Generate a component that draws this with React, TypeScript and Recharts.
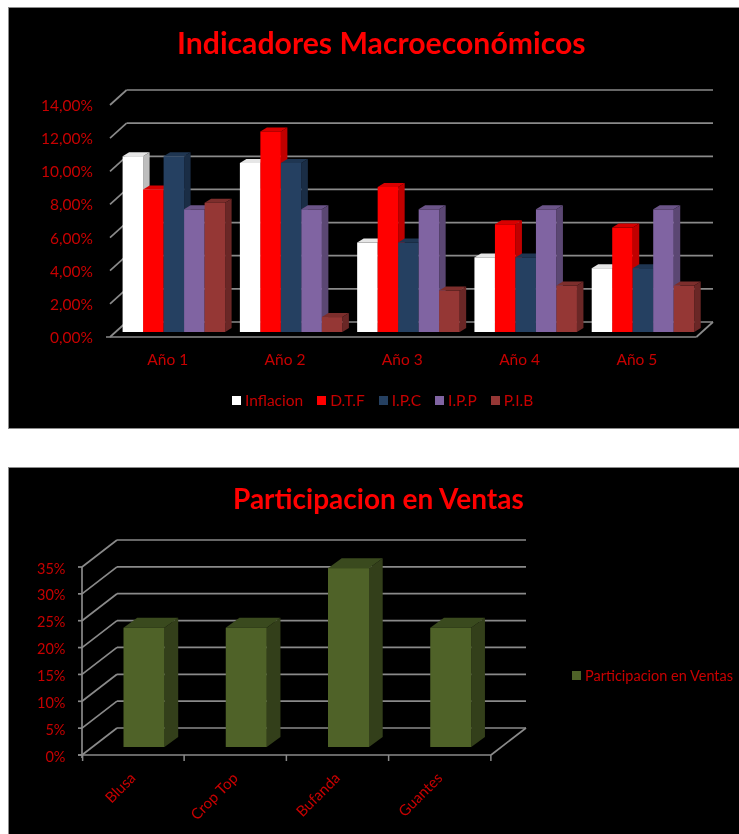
import { BarChart, Bar, XAxis, YAxis, CartesianGrid, Legend } from 'recharts'

const years = ['Año 1', 'Año 2', 'Año 3', 'Año 4', 'Año 5']
const inflacion = [10.6, 10.2, 5.4, 4.5, 3.85]
const dtf = [8.6, 12.1, 8.75, 6.5, 6.3]
const ipc = [10.6, 10.2, 5.4, 4.5, 3.85]
const ipp = [7.4, 7.4, 7.4, 7.4, 7.4]
const pib = [7.8, 0.9, 2.5, 2.8, 2.8]
const indicatorTicks = [0, 2, 4, 6, 8, 10, 12, 14]

const products = ['Blusa', 'Crop Top', 'Bufanda', 'Guantes']
const ventas = [22.2, 22.2, 33.3, 22.2]
const ventasTicks = [0, 5, 10, 15, 20, 25, 30, 35]

const indicators = years.map((name, i) => ({
  name,
  inflacion: inflacion[i],
  dtf: dtf[i],
  ipc: ipc[i],
  ipp: ipp[i],
  pib: pib[i],
}))
const sales = products.map((name, i) => ({ name, ventas: ventas[i] }))

const FONT = 'Lato, sans-serif'
const GRID = '#8a8a8a'
const DARK_RED = '#c80000'

// front face plus top and side, the library gives us the front rect
function box3d(side: string, top: string, dx: number, dy: number) {
  return (props: any) => {
    const { x, y, width, height, fill } = props
    return (
      <g>
        <polygon
          points={`${x},${y} ${x + dx},${y - dy} ${x + width + dx},${y - dy} ${x + width},${y}`}
          fill={top}
        />
        <polygon
          points={`${x + width},${y} ${x + width + dx},${y - dy} ${x + width + dx},${y + height - dy} ${x + width},${y + height}`}
          fill={side}
        />
        <rect x={x} y={y} width={width} height={height} fill={fill} />
      </g>
    )
  }
}

// wall line, diagonal to the front, and the floor on the last one
function wallLine(o: {
  bottom: number
  front: [number, number]
  back: [number, number]
  axis?: boolean
}) {
  return (props: any) => {
    const { x1, x2, y1 } = props
    const isFloor = Math.abs(y1 - o.bottom) < 1
    const [fx, fy] = o.front
    const [bx, by] = o.back
    return (
      <g key={props.index} stroke={GRID} strokeWidth={1.7} fill="none">
        <line x1={x1 + bx} y1={y1 + by} x2={x2 + bx} y2={y1 + by} />
        <line x1={x1 + fx} y1={y1 + fy} x2={x1 + bx} y2={y1 + by} />
        {o.axis && <line x1={x1 + fx - 4} y1={y1 + fy} x2={x1 + fx} y2={y1 + fy} />}
        {isFloor && (
          <>
            <line x1={x1 + fx - 4} y1={y1 + fy} x2={x2 + fx} y2={y1 + fy} />
            <line x1={x2 + fx} y1={y1 + fy} x2={x2 + bx} y2={y1 + by} />
          </>
        )}
        {isFloor && o.axis && (
          <line x1={x1 + fx} y1={y1 + fy + 3} x2={x1 + fx} y2={y1 + fy - 188} />
        )}
      </g>
    )
  }
}

function IndicatorYTick({ y, payload }: any) {
  return (
    <text x={93} y={y + 11} textAnchor="end" fontSize={15.5} fontFamily={FONT} fill={DARK_RED}>
      {`${payload.value.toFixed(2).replace('.', ',')}%`}
    </text>
  )
}

function IndicatorXTick({ x, y, payload }: any) {
  return (
    <text x={x - 6.5} y={y + 25} textAnchor="middle" fontSize={15.5} fontFamily={FONT} fill={DARK_RED}>
      {payload.value}
    </text>
  )
}

function VentasYTick({ y, payload }: any) {
  return (
    <text x={65.5} y={y + 14.5} textAnchor="end" fontSize={14.5} fontFamily={FONT} fill={DARK_RED}>
      {`${payload.value}%`}
    </text>
  )
}

function VentasXTick({ x, y, payload, index }: any) {
  return (
    <g>
      <line x1={x + 40.5} y1={y} x2={x + 40.5} y2={y + 6} stroke={GRID} strokeWidth={1.5} />
      {index === 0 && <line x1={x - 61} y1={y} x2={x - 61} y2={y + 6} stroke={GRID} strokeWidth={1.5} />}
      <text
        x={x - 7}
        y={y + 24}
        textAnchor="end"
        fontSize={15}
        fontFamily={FONT}
        fill={DARK_RED}
        transform={`rotate(-45 ${x - 7} ${y + 24})`}
      >
        {payload.value}
      </text>
    </g>
  )
}

function LegendRow({ payload, gap, size }: any) {
  return (
    <div style={{ display: 'flex', alignItems: 'center', fontFamily: FONT, fontSize: size, color: DARK_RED, gap }}>
      {payload.map((p: any) => (
        <div key={p.value} style={{ display: 'flex', alignItems: 'center', gap: 4, whiteSpace: 'nowrap' }}>
          <span style={{ width: 9, height: 9, background: p.color, display: 'inline-block' }} />
          {p.value}
        </div>
      ))}
    </div>
  )
}

const boxStyle = (top: number, height: number): React.CSSProperties => ({
  position: 'absolute',
  left: 8,
  top,
  width: 731,
  height,
  boxSizing: 'border-box',
  background: '#000',
  borderLeft: '1.5px solid #8c8c8c',
  borderTop: '1.5px solid #8c8c8c',
  borderBottom: height > 400 ? '1.5px solid #8c8c8c' : 'none',
})

const titleStyle = (top: number, left: number, fontSize: number): React.CSSProperties => ({
  position: 'absolute',
  left,
  top,
  color: '#ff0000',
  fontFamily: FONT,
  fontWeight: 700,
  fontSize,
  lineHeight: 1,
  whiteSpace: 'nowrap',
})

export default function App() {
  return (
    <div
      style={{
        position: 'absolute',
        left: 0,
        top: 0,
        width: 739,
        height: 834,
        background: '#fff',
        overflow: 'hidden',
        filter: 'blur(0.5px)',
      }}
    >
      <div style={boxStyle(7, 422)} />
      <div style={boxStyle(467, 367)} />
      <div style={titleStyle(27, 177, 30.2)}>Indicadores Macroeconómicos</div>
      <div style={titleStyle(484, 233, 28)}>Participacion en Ventas</div>

      <div style={{ position: 'absolute', left: 0, top: 0 }}>
        <BarChart
          width={739}
          height={430}
          data={indicators}
          margin={{ top: 100, right: 37, bottom: 58, left: 0 }}
          barSize={20.5}
          barGap={0}
        >
          <CartesianGrid
            vertical={false}
            syncWithTicks
            horizontal={wallLine({ bottom: 332, front: [-5.6, 5], back: [11, -10] })}
          />
          <XAxis dataKey="name" height={40} axisLine={false} tickLine={false} tick={<IndicatorXTick />} interval={0} />
          <YAxis
            width={115.6}
            domain={[0, 14]}
            ticks={indicatorTicks}
            axisLine={false}
            tickLine={false}
            tick={<IndicatorYTick />}
            interval={0}
          />
          <Legend
            layout="horizontal"
            verticalAlign="middle"
            itemSorter={null}
            wrapperStyle={{ left: 232, top: 391, width: 400 }}
            content={<LegendRow gap={14} size={15.5} />}
          />
          <Bar dataKey="inflacion" name="Inflacion" fill="#ffffff" isAnimationActive={false} shape={box3d('#bdbdbd', '#e6e6e6', 6.5, 4)} />
          <Bar dataKey="dtf" name="D.T.F" fill="#ff0000" isAnimationActive={false} shape={box3d('#c00000', '#d80000', 6.5, 4)} />
          <Bar dataKey="ipc" name="I.P.C" fill="#254061" isAnimationActive={false} shape={box3d('#1a2d45', '#1f3652', 6.5, 4)} />
          <Bar dataKey="ipp" name="I.P.P" fill="#8064a2" isAnimationActive={false} shape={box3d('#5b4773', '#6b5488', 6.5, 4)} />
          <Bar dataKey="pib" name="P.I.B" fill="#953735" isAnimationActive={false} shape={box3d('#6a2726', '#7d2e2c', 6.5, 4)} />
        </BarChart>
      </div>

      <div style={{ position: 'absolute', left: 0, top: 468 }}>
        <BarChart
          width={739}
          height={366}
          data={sales}
          margin={{ top: 91, right: 237.5, bottom: 47, left: 0 }}
          barSize={41}
        >
          <CartesianGrid
            vertical={false}
            syncWithTicks
            horizontal={wallLine({ bottom: 279, front: [-10.5, 8], back: [24.5, -19], axis: true })}
          />
          <XAxis dataKey="name" height={40} axisLine={false} tickLine={false} tick={<VentasXTick />} interval={0} />
          <YAxis
            width={92.5}
            domain={[0, 35]}
            ticks={ventasTicks}
            axisLine={false}
            tickLine={false}
            tick={<VentasYTick />}
            interval={0}
          />
          <Legend
            layout="horizontal"
            verticalAlign="middle"
            itemSorter={null}
            wrapperStyle={{ left: 572, top: 199, width: 167 }}
            content={<LegendRow gap={0} size={14.5} />}
          />
          <Bar dataKey="ventas" name="Participacion en Ventas" fill="#4f6228" isAnimationActive={false} shape={box3d('#333f1a', '#3a4a1e', 13.7, 10)} />
        </BarChart>
      </div>
    </div>
  )
}
